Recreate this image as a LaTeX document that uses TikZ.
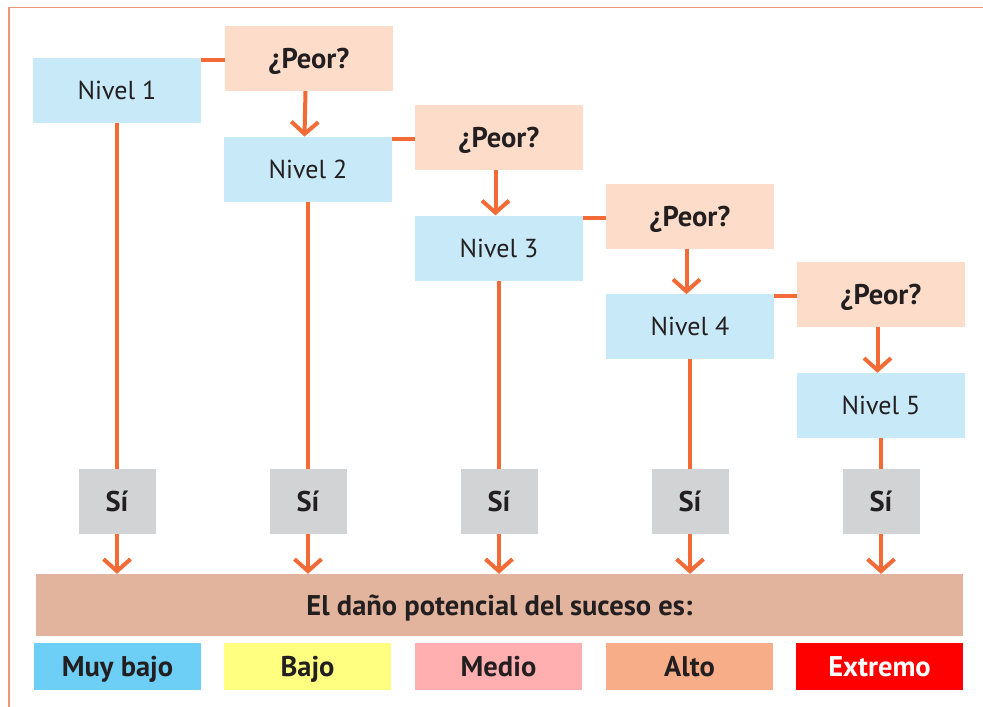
\documentclass[tikz,border=0pt]{standalone}
\usepackage{fontspec}
\setmainfont{PT Sans}
\usetikzlibrary{arrows.meta,calc}
\definecolor{ln}{HTML}{F26A35}
\definecolor{niv}{HTML}{C7E9F8}
\definecolor{peo}{HTML}{FDDDCA}
\definecolor{sig}{HTML}{D1D3D4}
\definecolor{barc}{HTML}{E2B49D}
\definecolor{cmb}{HTML}{6DCFF6}
\definecolor{cb}{HTML}{FFFF80}
\definecolor{cm}{HTML}{FFAFAF}
\definecolor{ca}{HTML}{F8AD89}
\definecolor{ce}{HTML}{FF0000}
\definecolor{txt}{HTML}{231F20}
\definecolor{frm}{HTML}{F29478}
\tikzset{
  box/.style={inner sep=0pt, text=txt, font=\fontsize{26}{28}\selectfont, text height=18pt, text depth=0pt},
  bfnt/.style={font=\fontsize{28.5}{30}\selectfont\bfseries, text height=20pt},
  nivel/.style={box, fill=niv, minimum width=168pt, minimum height=65pt},
  peor/.style={box, bfnt, fill=peo, minimum width=168pt, minimum height=65pt},
  sibox/.style={box, bfnt, fill=sig, minimum width=77pt, minimum height=65pt},
  lvl/.style={box, bfnt, minimum width=167pt, minimum height=47pt},
  conn/.style={draw=ln, line width=4pt},
  arr/.style={conn, -{Straight Barb[length=12pt,width=27pt,line width=4pt]}},
}
\begin{document}
\begin{tikzpicture}[x=1pt,y=-1pt]
\useasboundingbox (0,0) rectangle (983,707);
\draw[frm, line width=1.2pt] (983,7.5) -- (9,7.5) -- (9,707);
% Nivel nodes
\foreach \k/\x/\y in {1/117/90.5,2/308/169.25,3/499/248,4/690/326.75,5/881/405.5}{
  \node[nivel] (n\k) at (\x,\y) {Nivel \k};
  \node[sibox] (s\k) at (\x,501.5) {Sí};
}
\foreach \k/\x/\y in {1/309/58.5,2/499/137.25,3/690/216,4/881/294.75}{
  \node[peor] (p\k) at (\x,\y) {¿Peor?};
}
\node[box, bfnt, fill=barc, minimum width=927pt, minimum height=62pt] (bar) at (499.5,605) {El daño potencial del suceso es:};
\node[lvl, fill=cmb] (l1) at (117.5,666.5) {Muy bajo};
\node[lvl, fill=cb] (l2) at (307.5,666.5) {Bajo};
\node[lvl, fill=cm] (l3) at (498.5,666.5) {Medio};
\node[lvl, fill=ca] (l4) at (689.5,666.5) {Alto};
\node[lvl, fill=ce, text=white] (l5) at (879.5,666.5) {Extremo};
% connectors
\foreach \k in {1,...,4}{
  \draw[conn] ($(p\k.west)+(0,1.5)$) -- ($(p\k.west -| n\k.east)+(0,1.5)$);
}
\foreach \k [evaluate=\k as \j using int(\k+1)] in {1,...,4}{
  \draw[arr] ([xshift=-3.5pt]p\k.south) -- ([xshift=-3.5pt]n\j.north);
}
\foreach \k in {1,...,5}{
  \draw[conn] (n\k.south) -- (s\k.north);
  \draw[arr] (s\k.south) -- (s\k.south |- bar.north);
}
\end{tikzpicture}
\end{document}
